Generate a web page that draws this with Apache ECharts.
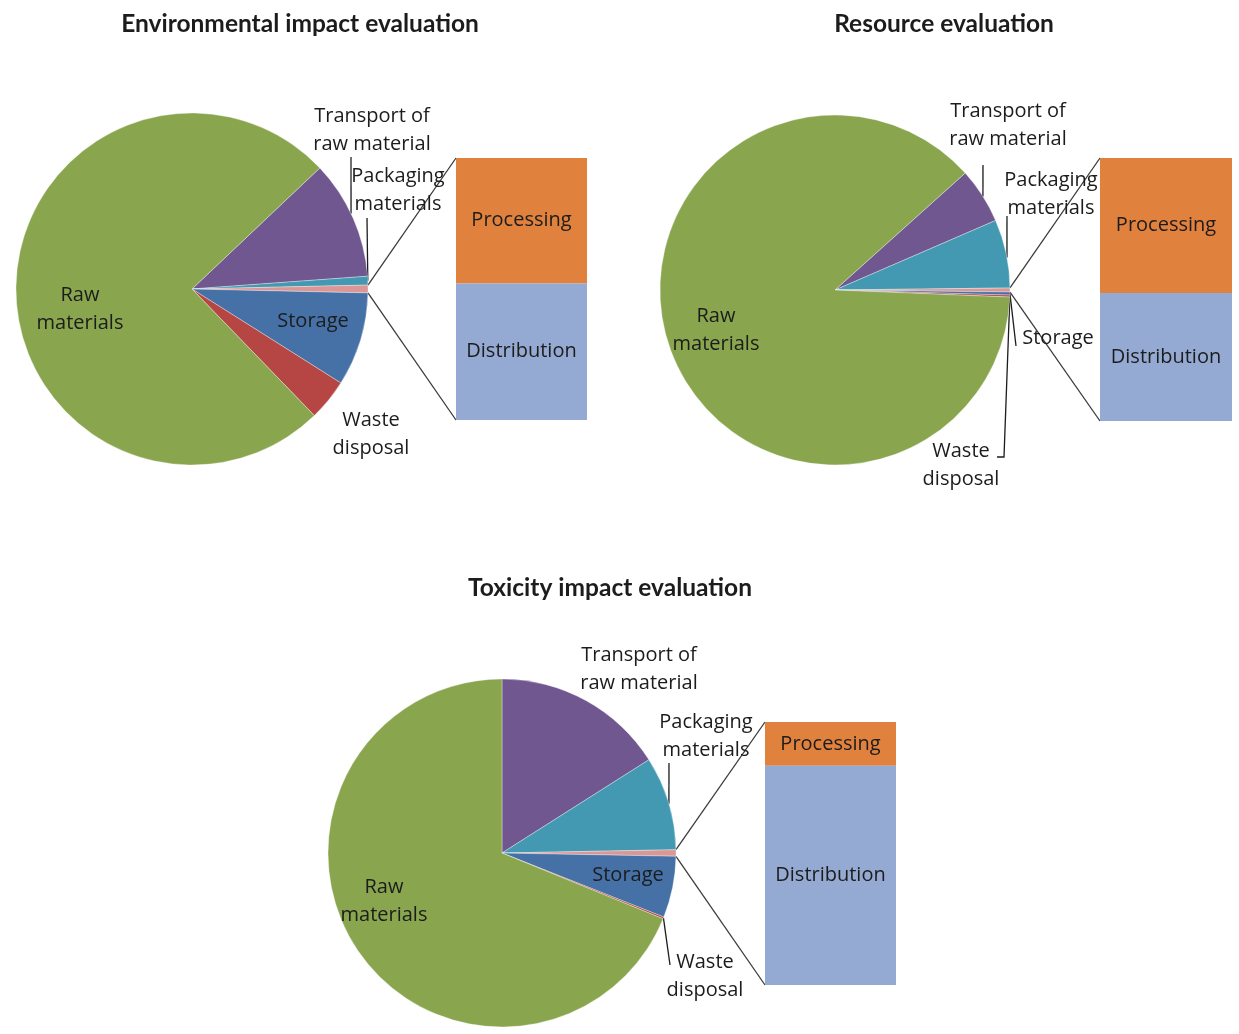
<!DOCTYPE html>
<html>
<head>
<meta charset="utf-8">
<script src="https://cdn.jsdelivr.net/npm/echarts@6/dist/echarts.min.js"></script>
<style>
  html, body { margin: 0; padding: 0; background: #ffffff; }
  #chart { width: 1239px; height: 1034px; }
</style>
</head>
<body>
<div id="chart"></div>
<script>
// Life-cycle stages: five go on the pie, the two smallest are broken out into a stacked bar.
const pieStages = ['Raw materials', 'Transport of raw material', 'Packaging materials', 'Storage', 'Waste disposal'];
const barStages = ['Processing', 'Distribution'];
const chartTitles = ['Environmental impact evaluation', 'Resource evaluation', 'Toxicity impact evaluation'];

// Share of each stage (%), pie values in pieStages order, bar values in barStages order
const environmentalPie = [75.1, 10.9, 0.8, 8.6, 3.8];
const environmentalBar = [0.34, 0.37];
const resourcePie = [87.72, 5.14, 6.32, 0.28, 0.18];
const resourceBar = [0.19, 0.18];
const toxicityPie = [68.83, 16.0, 8.7, 5.7, 0.17];
const toxicityBar = [0.1, 0.5];

const pieSets = [environmentalPie, resourcePie, toxicityPie];
const barSets = [environmentalBar, resourceBar, toxicityBar];

// Clockwise order of the slices, starting from the first slice above the split-out wedge
const ringOrder = ['Transport of raw material', 'Packaging materials', 'Other', 'Storage', 'Waste disposal', 'Raw materials'];

const labelText = {
  'Raw materials': 'Raw\nmaterials',
  'Transport of raw material': 'Transport of\nraw material',
  'Packaging materials': 'Packaging\nmaterials',
  'Storage': 'Storage',
  'Waste disposal': 'Waste\ndisposal'
};

const colors = {
  'Raw materials': '#89A64F',
  'Transport of raw material': '#71578F',
  'Packaging materials': '#4299B1',
  'Storage': '#4571A7',
  'Waste disposal': '#B54643',
  'Other': '#DB9795',
  'Processing': '#E0823E',
  'Distribution': '#95AAD2'
};

const TITLE_FONT = 'Lato, "Open Sans", sans-serif';
const LABEL_FONT = '"Open Sans", Lato, sans-serif';
const INK = '#1c1c1c';

// Panel layout: title anchor, pie geometry, bar box, label spots and leader lines
const panels = [
  {
    title: [300, 12],
    center: [192, 289], radius: 176,
    bar: { left: 456, top: 158, width: 131, height: 262 },
    labels: {
      'Raw materials': [80, 309],
      'Transport of raw material': [372, 130],
      'Packaging materials': [398, 190],
      'Storage': [313, 321],
      'Waste disposal': [371, 434]
    },
    leaders: [
      { stage: 'Transport of raw material', f: 0.46, to: [[351, 157]] },
      { stage: 'Packaging materials', f: 0.5, to: [[367, 218]] }
    ]
  },
  {
    title: [944, 12],
    center: [835, 290], radius: 175,
    bar: { left: 1100, top: 158, width: 132, height: 263 },
    labels: {
      'Raw materials': [716, 330],
      'Transport of raw material': [1008, 125],
      'Packaging materials': [1051, 194],
      'Storage': [1058, 338],
      'Waste disposal': [961, 465]
    },
    leaders: [
      { stage: 'Transport of raw material', f: 0.52, to: [[983, 165]] },
      { stage: 'Packaging materials', f: 0.56, to: [[1007, 216]] },
      { stage: 'Storage', f: 0.5, to: [[1016, 346]] },
      { stage: 'Waste disposal', f: 0.5, to: [[1004, 457], [997, 457]] }
    ]
  },
  {
    title: [610, 576],
    center: [502, 853], radius: 174,
    bar: { left: 765, top: 722, width: 131, height: 263 },
    labels: {
      'Raw materials': [384, 901],
      'Transport of raw material': [639, 669],
      'Packaging materials': [706, 736],
      'Storage': [628, 875],
      'Waste disposal': [705, 976]
    },
    leaders: [
      { stage: 'Packaging materials', f: 0.51, to: [[669, 763]] },
      { stage: 'Waste disposal', f: 0.5, to: [[670, 965]] }
    ]
  }
];

function sliceValues(k) {
  const v = {};
  pieStages.forEach((s, i) => { v[s] = pieSets[k][i]; });
  v['Other'] = barSets[k][0] + barSets[k][1];
  return ringOrder.map(name => ({ name, value: v[name] }));
}

// Start angle that centres the split-out wedge on the horizontal axis (ECharts degrees)
function ringGeometry(k) {
  const slices = sliceValues(k);
  const total = slices.reduce((s, d) => s + d.value, 0);
  let before = 0;
  for (const d of slices) {
    if (d.name === 'Other') { before += d.value / 2; break; }
    before += d.value;
  }
  const startAngle = 360 * before / total;
  const spans = {};
  let a = startAngle;
  slices.forEach(d => {
    const span = 360 * d.value / total;
    spans[d.name] = [a, a - span];
    a -= span;
  });
  return { slices, total, startAngle, spans };
}

function edgePoint(p, deg) {
  const rad = deg * Math.PI / 180;
  return [p.center[0] + p.radius * Math.cos(rad), p.center[1] - p.radius * Math.sin(rad)];
}

const geo = [0, 1, 2].map(ringGeometry);

const option = {
  animation: false,
  backgroundColor: '#ffffff',
  title: panels.map((p, k) => ({
    text: chartTitles[k],
    left: p.title[0], top: p.title[1],
    textAlign: 'center',
    padding: 0,
    textStyle: { fontFamily: TITLE_FONT, fontSize: 24.5, fontWeight: 'bold', color: INK }
  })),
  grid: panels.map(p => ({ left: p.bar.left, top: p.bar.top, width: p.bar.width, height: p.bar.height })),
  xAxis: panels.map((p, k) => ({ gridIndex: k, type: 'category', data: ['stages'], show: false })),
  yAxis: panels.map((p, k) => ({
    gridIndex: k, type: 'value', min: 0,
    max: barSets[k][0] + barSets[k][1],
    inverse: true, show: false
  })),
  series: []
};

panels.forEach((p, k) => {
  const g = geo[k];
  option.series.push({
    type: 'pie',
    center: p.center,
    radius: p.radius,
    startAngle: g.startAngle,
    clockwise: true,
    avoidLabelOverlap: false,
    minShowLabelAngle: 0,
    data: g.slices.map(d => ({
      name: d.name,
      value: d.value,
      itemStyle: { color: colors[d.name] },
      label: { show: d.name !== 'Other' }
    })),
    itemStyle: { borderColor: 'rgba(255,255,255,0.55)', borderWidth: 0.6 },
    label: {
      position: 'outside',
      overflow: 'none',
      formatter: prm => labelText[prm.name] || prm.name,
      fontFamily: LABEL_FONT, fontSize: 20, lineHeight: 28, color: INK
    },
    labelLine: { show: false },
    labelLayout: prm => {
      const spot = p.labels[ringOrder[prm.dataIndex]];
      if (!spot) return {};
      return { x: spot[0], y: spot[1], align: 'center', verticalAlign: 'middle' };
    },
    emphasis: { disabled: true }
  });
  barStages.forEach((stage, j) => {
    option.series.push({
      type: 'bar',
      name: stage,
      xAxisIndex: k, yAxisIndex: k,
      stack: 'split' + k,
      barWidth: '100%',
      data: [barSets[k][j]],
      itemStyle: { color: colors[stage] },
      label: {
        show: true, position: 'inside', formatter: '{a}',
        fontFamily: LABEL_FONT, fontSize: 20, color: INK
      },
      emphasis: { disabled: true }
    });
  });
});

const chart = echarts.init(document.getElementById('chart'), null, { renderer: 'canvas' });
chart.setOption(option);

// Connector lines to the bar and leader lines for the outside labels
const graphics = [];
panels.forEach((p, k) => {
  const g = geo[k];
  const other = g.spans['Other'];
  const upper = edgePoint(p, other[0]);
  const lower = edgePoint(p, other[1]);
  const total = barSets[k][0] + barSets[k][1];
  const barTop = chart.convertToPixel({ gridIndex: k }, ['stages', 0]);
  const barBottom = chart.convertToPixel({ gridIndex: k }, ['stages', total]);
  const barLeft = p.bar.left;
  graphics.push({
    type: 'line', silent: true,
    shape: { x1: upper[0], y1: upper[1], x2: barLeft, y2: barTop[1] },
    style: { stroke: '#3a3a3a', lineWidth: 1.3 }
  });
  graphics.push({
    type: 'line', silent: true,
    shape: { x1: lower[0], y1: lower[1], x2: barLeft, y2: barBottom[1] },
    style: { stroke: '#3a3a3a', lineWidth: 1.3 }
  });
  p.leaders.forEach(ld => {
    const span = g.spans[ld.stage];
    const ang = span[0] + (span[1] - span[0]) * ld.f;
    const start = edgePoint(p, ang);
    graphics.push({
      type: 'polyline', silent: true,
      shape: { points: [start].concat(ld.to) },
      style: { stroke: '#1c1c1c', lineWidth: 1.3, fill: null }
    });
  });
});
chart.setOption({ graphic: graphics });
</script>
</body>
</html>
